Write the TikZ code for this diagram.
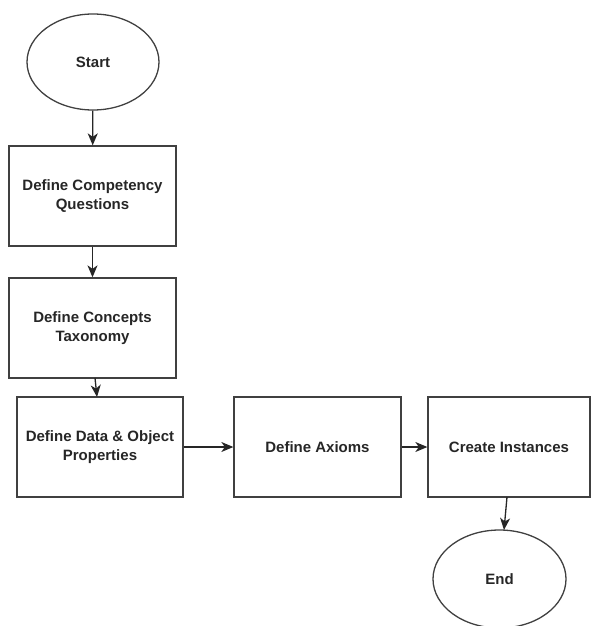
\documentclass[tikz,border=0pt]{standalone}
\usepackage{fontspec}
\setmainfont{Liberation Sans}
\usetikzlibrary{shapes.geometric,arrows.meta}
\begin{document}
\begin{tikzpicture}[x=1pt,y=-1pt,
  line width=1.3pt,
  every node/.style={font=\bfseries\fontsize{15}{18.5}\selectfont, text=black!85},
  stepbox/.style={draw=black!75, rectangle, align=center, inner sep=0pt},
  terminal/.style={draw=black!75, ellipse, inner sep=0pt},
  flow/.style={draw=black!85, -{Stealth[length=12pt,width=10pt,inset=3.5pt]}}
]
\useasboundingbox (0,0) rectangle (591,626);
\node[terminal, minimum width=132pt, minimum height=96pt] (start) at (93,62) {Start};
\node[stepbox, minimum width=167pt, minimum height=100pt] (cq) at (92.5,196) {Define Competency\\Questions};
\node[stepbox, minimum width=167pt, minimum height=100pt] (ct) at (92.5,328) {Define Concepts\\Taxonomy};
\node[stepbox, minimum width=166pt, minimum height=100pt] (dp) at (100,447) {Define Data \& Object\\Properties};
\node[stepbox, minimum width=167pt, minimum height=100pt] (ax) at (317.5,447) {Define Axioms};
\node[stepbox, minimum width=162pt, minimum height=100pt] (ci) at (509,447) {Create Instances};
\node[terminal, minimum width=133pt, minimum height=98pt] (end) at (499.5,579) {End};
\coordinate (ctout) at (95,378);
\coordinate (dpin) at (97,397);
\coordinate (ciout) at (507,497);
\coordinate (endin) at (504,530);
\draw[flow] (start) -- (cq);
\draw[flow] (cq) -- (ct);
\draw[flow] (ctout) -- (dpin);
\draw[flow] (dp) -- (ax);
\draw[flow] (ax) -- (ci);
\draw[flow] (ciout) -- (endin);
\end{tikzpicture}
\end{document}
